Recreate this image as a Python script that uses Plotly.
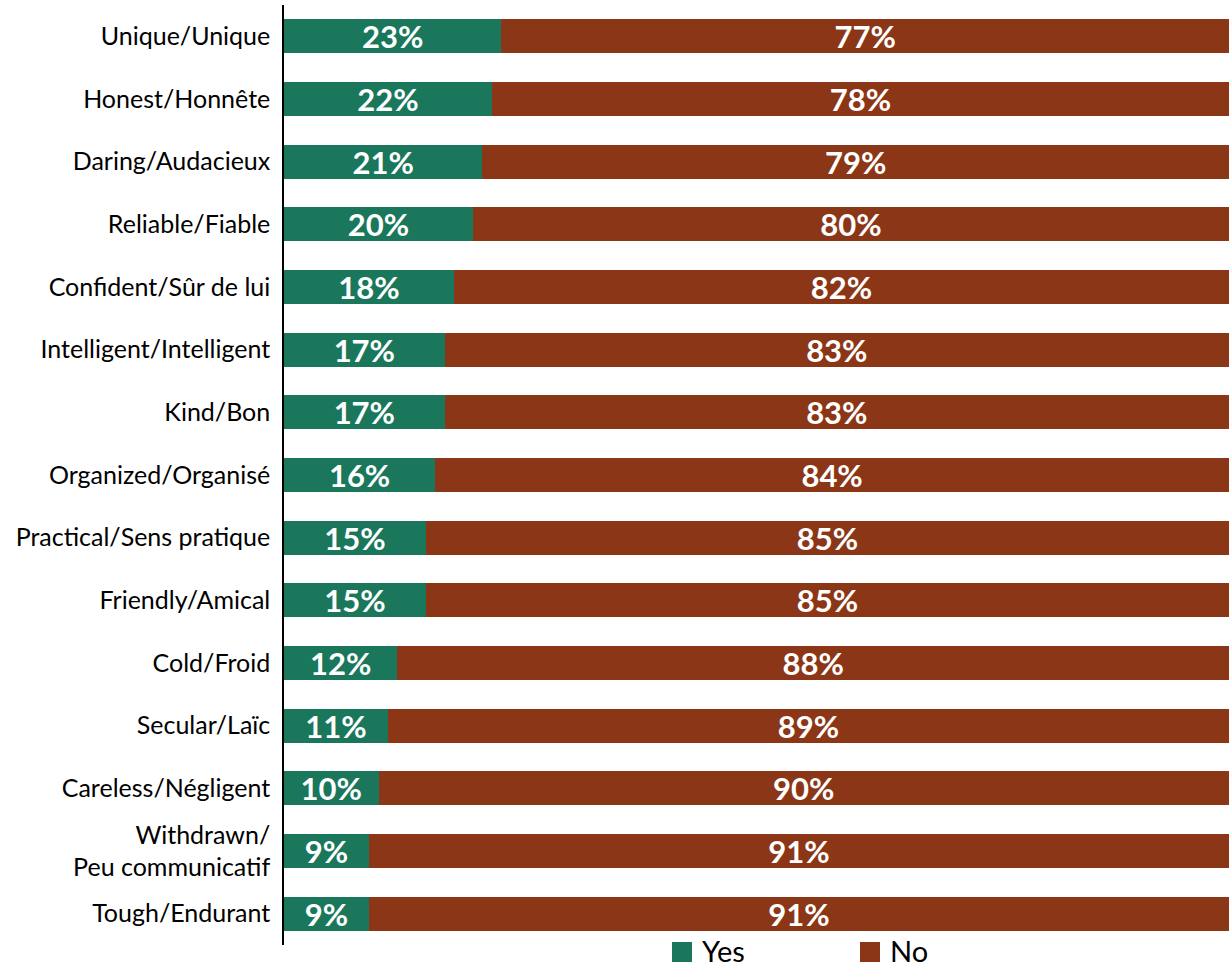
import plotly.graph_objects as go

# Survey traits, top to bottom
traits = [
    "Unique/Unique",
    "Honest/Honnête",
    "Daring/Audacieux",
    "Reliable/Fiable",
    "Confident/Sûr de lui",
    "Intelligent/Intelligent",
    "Kind/Bon",
    "Organized/Organisé",
    "Practical/Sens pratique",
    "Friendly/Amical",
    "Cold/Froid",
    "Secular/Laïc",
    "Careless/Négligent",
    "Withdrawn/<br>Peu communicatif",
    "Tough/Endurant",
]
yes_pct = [23, 22, 21, 20, 18, 17, 17, 16, 15, 15, 12, 11, 10, 9, 9]
no_pct = [77, 78, 79, 80, 82, 83, 83, 84, 85, 85, 88, 89, 90, 91, 91]
series_names = ["Yes", "No"]

GREEN = "#1A775B"
BROWN = "#8B3717"
FONT = "Lato"

W, H = 1229, 967
LEFT, TOP, BOTTOM_GAP = 284, 5, 22
PAPER_W, PAPER_H = W - LEFT, H - TOP


def px_x(px):
    return (px - LEFT) / PAPER_W


def px_y(py):
    return (H - py) / PAPER_H


fig = go.Figure()

for name, vals, color in zip(series_names, [yes_pct, no_pct], [GREEN, BROWN]):
    fig.add_trace(go.Bar(
        y=traits,
        x=vals,
        name=name,
        orientation="h",
        marker=dict(color=color, line=dict(width=0)),
        text=[f"{v}%" for v in vals],
        textposition="inside",
        insidetextanchor="middle",
        constraintext="none",
        textangle=0,
        textfont=dict(family=FONT, size=31, color="white", weight="bold"),
        showlegend=False,
    ))

# Legend drawn beneath the plot: square swatch followed by its label
legend_swatch_left = [672, 860]
for name, color, sx in zip(series_names, [GREEN, BROWN], legend_swatch_left):
    fig.add_shape(
        type="rect", xref="paper", yref="paper",
        x0=px_x(sx), x1=px_x(sx + 20), y0=px_y(962), y1=px_y(942),
        fillcolor=color, line=dict(width=0),
    )
    fig.add_annotation(
        text=name, xref="paper", yref="paper",
        x=px_x(sx + 28), y=px_y(950), xanchor="left", yanchor="middle",
        showarrow=False,
        font=dict(family=FONT, size=29, color="black"),
    )

fig.update_layout(
    width=W,
    height=H,
    barmode="stack",
    bargap=0.46,
    plot_bgcolor="white",
    paper_bgcolor="white",
    margin=dict(l=LEFT, r=0, t=TOP, b=0),
    font=dict(family=FONT, color="black"),
    showlegend=False,
    xaxis=dict(
        range=[0, 100],
        visible=False,
        fixedrange=True,
    ),
    yaxis=dict(
        domain=[BOTTOM_GAP / PAPER_H, 1],
        autorange="reversed",
        showline=True,
        linecolor="black",
        linewidth=1.5,
        ticks="",
        showgrid=False,
        tickfont=dict(family=FONT, size=25, color="black"),
        ticklabelstandoff=7,
    ),
)

fig.write_html("out.html")
